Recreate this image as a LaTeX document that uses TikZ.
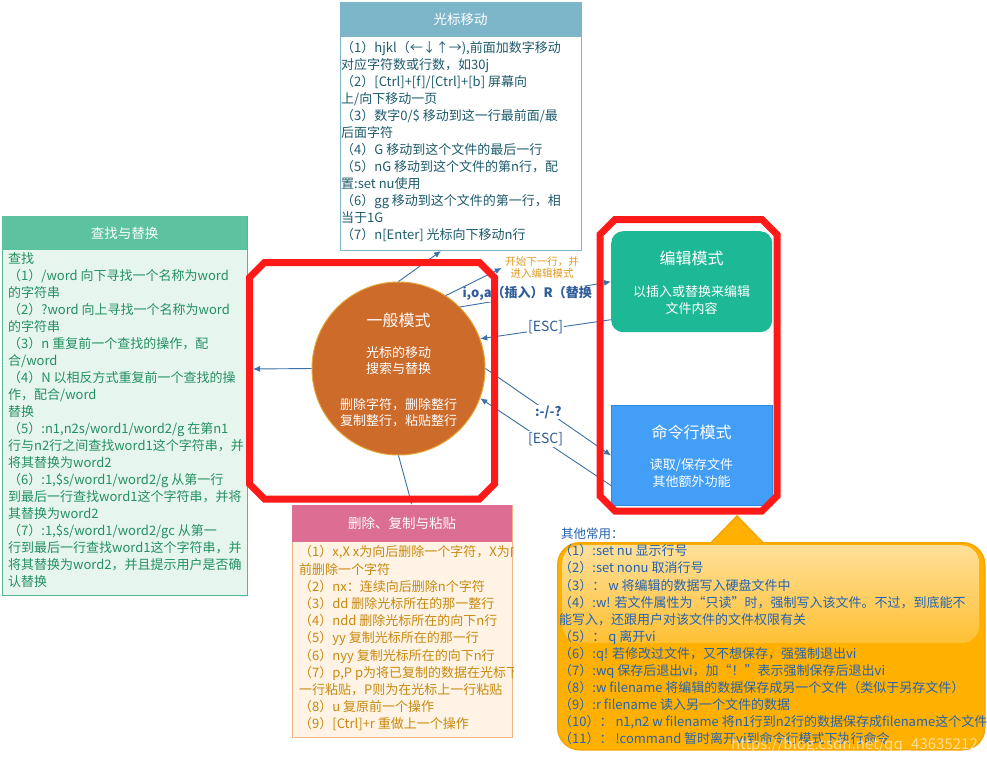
\documentclass[tikz,border=0pt]{standalone}
\usepackage{fontspec}
\newfontfamily\cjk{Noto Sans CJK SC}
\usetikzlibrary{calc,arrows.meta}
\definecolor{topc}{HTML}{7DB6C9}
\definecolor{toptext}{HTML}{1E5B6C}
\definecolor{lefth}{HTML}{5CC2A0}
\definecolor{leftbody}{HTML}{E7F5EF}
\definecolor{leftb}{HTML}{52B994}
\definecolor{lefttext}{HTML}{23905F}
\definecolor{pinkc}{HTML}{DB6E92}
\definecolor{botbody}{HTML}{FEF3E5}
\definecolor{botb}{HTML}{F3B585}
\definecolor{bottext}{HTML}{C8890F}
\definecolor{circc}{HTML}{CD6B2B}
\definecolor{circb}{HTML}{E5A635}
\definecolor{editc}{HTML}{1DB996}
\definecolor{cmdc}{HTML}{429EF6}
\definecolor{cmdb}{HTML}{2A8BE5}
\definecolor{callc}{HTML}{FFB000}
\definecolor{callb}{HTML}{F5A500}
\definecolor{calltext}{HTML}{2563B0}
\definecolor{redc}{HTML}{FF1A1A}
\definecolor{arrc}{HTML}{3B70A8}
\definecolor{lblc}{HTML}{2F5D9B}
\definecolor{kaic}{HTML}{E09A20}
\begin{document}
\begin{tikzpicture}[x=1pt,y=-1pt,
  every node/.style={font=\cjk},
  arr/.style={draw=arrc, line width=0.9pt, -{Latex[length=7pt,width=6pt]}},
  bodytxt/.style={align=left, anchor=north west, inner sep=0pt},
  hdr/.style={anchor=north west, inner sep=0pt, text=white, font=\cjk\fontsize{13.5}{16}\selectfont},
  oct/.style={draw=redc, line width=7pt},
  lbl/.style={fill=white, inner sep=1pt, text=lblc},
  boxtitle/.style={text=white, font=\cjk\fontsize{16}{18}\selectfont},
  boxsub/.style={text=white, align=center, font=\cjk\fontsize{13}{17}\selectfont}
]
\useasboundingbox (0,0) rectangle (987,765);
\fill[white] (0,0) rectangle (987,765);

% ---- top box: cursor movement
\node[draw=topc, line width=1pt, fill=white, anchor=north west, inner sep=0pt, minimum width=241pt, minimum height=248pt] (top) at (340,2) {};
\node[hdr, fill=topc, minimum width=241pt, minimum height=35pt] (toph) at (340,2) {光标移动};
\node[bodytxt, text=toptext, font=\cjk\fontsize{13}{17}\selectfont] (toptxt) at (341,41.5) {%
（1）hjkl（←↓↑→),前面加数字移动\\
对应字符数或行数，如30j\\
（2）[Ctrl]+[f]/[Ctrl]+[b] 屏幕向\\
上/向下移动一页\\
（3）数字0/\$ 移动到这一行最前面/最\\
后面字符\\
（4）G 移动到这个文件的最后一行\\
（5）nG 移动到这个文件的第n行，配\\
置:set nu使用\\
（6）gg 移动到这个文件的第一行，相\\
当于1G\\
（7）n[Enter] 光标向下移动n行};

% ---- left box: search and replace
\node[draw=leftb, line width=1pt, fill=leftbody, anchor=north west, inner sep=0pt, minimum width=245pt, minimum height=379pt] (left) at (2,216) {};
\node[hdr, fill=lefth, minimum width=245pt, minimum height=34pt] (lefthd) at (2,216) {查找与替换};
\node[bodytxt, text=lefttext, font=\cjk\fontsize{13}{17}\selectfont] (lefttxt) at (8,252.5) {%
查找\\
（1）/word 向下寻找一个名称为word\\
的字符串\\
（2）?word 向上寻找一个名称为word\\
的字符串\\
（3）n 重复前一个查找的操作，配\\
合/word\\
（4）N 以相反方式重复前一个查找的操\\
作，配合/word\\
替换\\
（5）:n1,n2s/word1/word2/g 在第n1\\
行与n2行之间查找word1这个字符串，并\\
将其替换为word2\\
（6）:1,\$s/word1/word2/g 从第一行\\
到最后一行查找word1这个字符串，并将\\
其替换为word2\\
（7）:1,\$s/word1/word2/gc 从第一\\
行到最后一行查找word1这个字符串，并\\
将其替换为word2，并且提示用户是否确\\
认替换};

% ---- bottom box: delete, copy, paste
\node[draw=botb, line width=1pt, fill=botbody, anchor=north west, inner sep=0pt, minimum width=220pt, minimum height=232pt] (bot) at (292,505) {};
\node[hdr, fill=pinkc, minimum width=220pt, minimum height=37pt] (bothd) at (292,505) {删除、复制与粘贴};
\begin{scope}
\clip (bot.south west) rectangle (bot.north east);
\node[bodytxt, text=bottext, font=\cjk\fontsize{13}{17.2}\selectfont] (bottxt) at (299,545.5) {%
（1）x,X x为向后删除一个字符，X为向\\
前删除一个字符\\
（2）nx：连续向后删除n个字符\\
（3）dd 删除光标所在的那一整行\\
（4）ndd 删除光标所在的向下n行\\
（5）yy 复制光标所在的那一行\\
（6）nyy 复制光标所在的向下n行\\
（7）p,P p为将已复制的数据在光标下\\
一行粘贴，P则为在光标上一行粘贴\\
（8）u 复原前一个操作\\
（9）[Ctrl]+r 重做上一个操作};
\end{scope}

% ---- central circle
\node[circle, fill=circc, draw=circb, line width=1pt, minimum size=173pt, inner sep=0pt] (gen) at (398.5,368.5) {};
\node[boxtitle] (gent) at (398.5,320) {一般模式};
\node[boxsub, font=\cjk\fontsize{13}{16.5}\selectfont] (gens1) at (398.5,360.5) {光标的移动\\搜索与替换};
\node[boxsub, font=\cjk\fontsize{13}{16.5}\selectfont] (gens2) at (398.5,412.5) {删除字符，删除整行\\复制整行，粘贴整行};

% ---- edit mode and command mode
\node[rounded corners=12pt, fill=editc, anchor=north west, inner sep=0pt, minimum width=161pt, minimum height=101pt] (edit) at (611,231) {};
\node[boxtitle] (editt) at (691.5,258) {编辑模式};
\node[boxsub] (edits) at (691.5,300.5) {以插入或替换来编辑\\文件内容};
\node[fill=cmdc, draw=cmdb, line width=1pt, anchor=north west, inner sep=0pt, minimum width=161pt, minimum height=100pt] (cmd) at (611,405) {};
\node[boxtitle] (cmdt) at (691.5,432) {命令行模式};
\node[boxsub] (cmds) at (691.5,473.5) {读取/保存文件\\其他额外功能};

% ---- callout
\node[fill=callc, draw=callb, line width=1.5pt, rounded corners=22pt, anchor=north west, inner sep=0pt, minimum width=427pt, minimum height=207pt] (call) at (557,542) {};
\fill[callc] (711,544) -- (737,516) -- (763,544) -- cycle;
\draw[callb, line width=1.5pt] (711,542.8) -- (737,516) -- (763,542.8);
\node[rounded corners=18pt, top color=white!60!callc, bottom color=white!20!callc, anchor=north west, inner sep=0pt, minimum width=417pt, minimum height=98pt] (gloss) at (562,545) {};
\node[anchor=west, inner sep=0pt, text=calltext, font=\cjk\fontsize{12.5}{15}\selectfont] (other) at (561,534) {其他常用：};
\node[bodytxt, text=calltext, font=\cjk\fontsize{13}{17.1}\selectfont] (calltxt) at (559,544.5) {%
（1）:set nu  显示行号\\
（2）:set nonu  取消行号\\
（3）： w  将编辑的数据写入硬盘文件中\\
（4）:w! 若文件属性为“只读”时，强制写入该文件。不过，到底能不\\
能写入，还跟用户对该文件的文件权限有关\\
（5）： q 离开vi\\
（6）:q! 若修改过文件，又不想保存，强强制退出vi\\
（7）:wq 保存后退出vi，加“！”表示强制保存后退出vi\\
（8）:w filename 将编辑的数据保存成另一个文件（类似于另存文件）\\
（9）:r filename  读入另一个文件的数据\\
（10）： n1,n2 w filename 将n1行到n2行的数据保存成filename这个文件\\
（11）： !command 暂时离开vi到命令行模式下执行命令};
\node[anchor=east, inner sep=0pt, text=white, text opacity=0.6, font=\cjk\fontsize{15}{17}\selectfont] (wm) at (978,745) {https://blog.csdn.net/qq\_43635212};

% ---- connectors
\draw[arr] (gen.north) -- ([xshift=101pt]top.south west);
\draw[arr] (gen.45) -- node[lbl, pos=0.445, yshift=2pt, font=\cjk\bfseries\fontsize{13}{15}\selectfont] (ioa) {i,o,a（插入）R（替换} (edit.west);
\node[text=kaic, align=center, font=\cjk\fontsize{10.5}{12}\selectfont] (kai) at (542,268) {开始下一行，并\\进入编辑模式};
\draw[arr] (gen.57) -- (kai.west);
\draw[arr] ([yshift=-38pt]edit.west) -- node[lbl, pos=0.5, yshift=2pt, font=\cjk\fontsize{14}{16}\selectfont] (esc1) {[ESC]} (gen.20);
\draw[arr] (gen.east) -- node[lbl, pos=0.5, font=\cjk\bfseries\fontsize{13}{15}\selectfont] (colon) {:-/-?} (cmd.west);
\draw[arr] ([yshift=-30pt]cmd.west) -- node[lbl, pos=0.5, yshift=3pt, font=\cjk\fontsize{14}{16}\selectfont] (esc2) {[ESC]} (gen.-20);
\draw[arr] (gen.west) -- ([xshift=5pt,yshift=37pt]left.east);
\draw[arr] (gen.south) -- ([xshift=120pt]bot.north west);

% ---- red frames
\draw[oct] (264.5,262.5) -- (479.5,262.5) -- (494.5,277.5) -- (494.5,484) -- (479.5,499) -- (264.5,499) -- (249.5,484) -- (249.5,277.5) -- cycle;
\draw[oct] (615,219.5) -- (762,219.5) -- (777,234.5) -- (777,496) -- (762,511) -- (615,511) -- (600,496) -- (600,234.5) -- cycle;
\end{tikzpicture}
\end{document}
